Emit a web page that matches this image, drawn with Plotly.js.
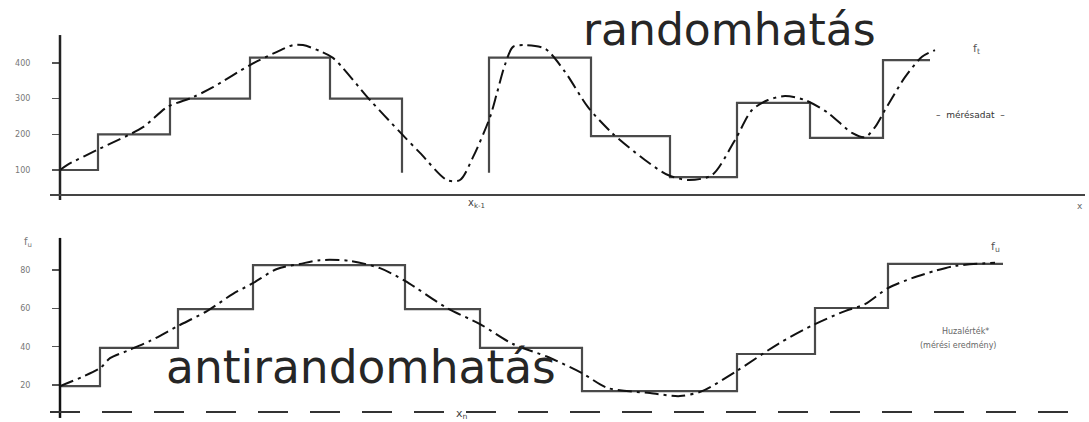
<!DOCTYPE html>
<html>
<head>
<meta charset="utf-8">
<script src="https://cdn.plot.ly/plotly-3.0.1.min.js"></script>
<style>html,body{margin:0;padding:0;background:#fff;}#chart{width:1089px;height:422px;}</style>
</head>
<body>
<div id="chart"></div>
<script>
// ---- data (x in arbitrary position units, y in level units) ----
// top panel: "randomhatás"
const topStepAx = [0, 3.8, 11, 19, 27, 34.2];
const topStepAy = [1, 2, 3, 4.15, 3, 0.92];
const topStepBx = [42.9, 42.9, 53.1, 61, 67.7, 75, 82.3, 87];
const topStepBy = [0.92, 4.15, 1.95, 0.8, 2.88, 1.9, 4.08, 4.08];
const topCurveX = [0, 0.7, 3.7, 8.3, 10.7, 13.3, 15.3, 19, 21.7, 23.3, 24.3, 26, 27.3, 31, 34, 36, 38.7, 40, 41.3, 43, 43.7, 44.5, 45.3, 46.5, 48.5, 50.5, 52.8, 55.2, 58.5, 60.8, 62.8, 65.2, 67.5, 69.2, 70.8, 72.5, 74.5, 76.8, 79.2, 80.5, 81.5, 82.5, 84.5, 86.2, 87.5];
const topCurveY = [1, 1.14, 1.56, 2.2, 2.76, 3.04, 3.32, 3.94, 4.31, 4.5, 4.5, 4.33, 4.14, 2.96, 2.06, 1.48, 0.72, 0.72, 1.36, 2.48, 3.16, 3.95, 4.45, 4.5, 4.4, 3.75, 2.76, 2.04, 1.28, 0.86, 0.72, 0.86, 1.84, 2.68, 2.96, 3.07, 2.96, 2.6, 2.04, 1.92, 2.2, 2.68, 3.6, 4.17, 4.36];
const topTickVals = [1, 2, 3, 4];
const topTickText = ['100', '200', '300', '400'];

// bottom panel: "antirandomhatás"
const botStepX = [0, 4, 11.8, 19.3, 34.5, 42, 52.2, 67.7, 75.5, 82.8, 94.3];
const botStepY = [0.97, 1.97, 2.98, 4.13, 2.98, 1.97, 0.84, 1.81, 3.01, 4.16, 4.16];
const botCurveX = [0, 4, 5, 6.7, 9, 11.8, 14.7, 17.3, 19.3, 21.7, 24, 26, 29, 32, 34.5, 38.7, 42, 45.3, 48.8, 52.2, 54.8, 59, 62, 64.2, 67.7, 71.8, 75.5, 78.5, 80.5, 82.8, 85.2, 87.5, 89.5, 93.5];
const botCurveY = [0.97, 1.44, 1.7, 1.89, 2.15, 2.54, 2.93, 3.38, 3.66, 4.03, 4.16, 4.26, 4.24, 4.05, 3.72, 3.01, 2.59, 2.07, 1.73, 1.31, 0.92, 0.79, 0.71, 0.84, 1.37, 2.07, 2.59, 2.93, 3.11, 3.53, 3.79, 3.98, 4.11, 4.19];
const botTickVals = [1, 2, 3, 4];
const botTickText = ['20', '40', '60', '80'];

// axis extents
const xAxisFrom = -1, xAxisTo = 102.5;
const topAxisY = 0.30, topVFrom = 0.16, topVTo = 4.78;
const botAxisY = 0.295, botVFrom = 0.14, botVTo = 4.84;

// ---- styles ----
const stepLine = {color: '#4a4a4a', width: 2.2, shape: 'hv'};
const curveLine = {color: '#111', width: 2, dash: '14px,5px,3px,5px', shape: 'spline', smoothing: 0.8};

const traces = [
  {x: topStepAx, y: topStepAy, yaxis: 'y2', mode: 'lines', line: stepLine, hoverinfo: 'skip'},
  {x: topStepBx, y: topStepBy, yaxis: 'y2', mode: 'lines', line: stepLine, hoverinfo: 'skip'},
  {x: topCurveX, y: topCurveY, yaxis: 'y2', mode: 'lines', line: curveLine, hoverinfo: 'skip'},
  {x: botStepX, y: botStepY, yaxis: 'y', mode: 'lines', line: stepLine, hoverinfo: 'skip'},
  {x: botCurveX, y: botCurveY, yaxis: 'y', mode: 'lines', line: curveLine, hoverinfo: 'skip'}
];

const tickFont = {family: 'DejaVu Sans', size: 8, color: '#777'};
const axPos = 60 / 1089;
const yCommon = {
  anchor: 'free', position: axPos, showgrid: false, zeroline: false, showline: false,
  ticks: 'outside', ticklen: 8, tickwidth: 1.5, tickcolor: '#555',
  tickfont: tickFont, ticklabelstandoff: 20, fixedrange: true
};

const P = (px, py) => ({x: px / 1089, y: 1 - py / 422, xref: 'paper', yref: 'paper',
  xanchor: 'center', yanchor: 'middle', showarrow: false});
const F = (size, color) => ({family: 'DejaVu Sans', size: size, color: color});

const annotations = [
  Object.assign(P(729, 30), {text: 'randomhatás', font: F(44, '#262626')}),
  Object.assign(P(361, 367), {text: 'antirandomhatás', font: F(45.5, '#262626')}),
  Object.assign(P(476, 203), {text: 'x<sub>k-1</sub>', font: F(10, '#444')}),
  Object.assign(P(1080, 206), {text: 'x', font: F(9, '#666')}),
  Object.assign(P(976, 49), {text: 'f<sub>t</sub>', font: F(11, '#555')}),
  Object.assign(P(970, 115), {text: '–  mérésadat  –', font: F(9, '#333')}),
  Object.assign(P(995, 247), {text: 'f<sub>u</sub>', font: F(11, '#555')}),
  Object.assign(P(965, 331), {text: 'Huzalérték*', font: F(8, '#666')}),
  Object.assign(P(958, 345), {text: '(mérési eredmény)', font: F(8, '#666')}),
  Object.assign(P(28, 242), {text: 'f<sub>u</sub>', font: F(10, '#777')}),
  Object.assign(P(462, 414), {text: 'x<sub>n</sub>', font: F(11, '#444')})
];

const shapes = [
  {type: 'line', xref: 'x', yref: 'y2', x0: 0, x1: 0, y0: topVFrom, y1: topVTo, line: {color: '#222', width: 2.5}},
  {type: 'line', xref: 'x', yref: 'y2', x0: xAxisFrom, x1: xAxisTo, y0: topAxisY, y1: topAxisY, line: {color: '#444', width: 2}},
  {type: 'line', xref: 'x', yref: 'y', x0: 0, x1: 0, y0: botVFrom, y1: botVTo, line: {color: '#111', width: 2.5}},
  {type: 'line', xref: 'x', yref: 'y', x0: xAxisFrom, x1: xAxisTo, y0: botAxisY, y1: botAxisY, line: {color: '#333', width: 2, dash: '30px,22px'}}
];

const layout = {
  width: 1089, height: 422,
  margin: {l: 0, r: 0, t: 0, b: 0},
  paper_bgcolor: '#fff', plot_bgcolor: '#fff',
  showlegend: false,
  xaxis: {range: [-6, 102.9], domain: [0, 1], visible: false, fixedrange: true},
  yaxis: Object.assign({}, yCommon, {domain: [0, 0.5], range: [0.034, 5.543], tickvals: botTickVals, ticktext: botTickText}),
  yaxis2: Object.assign({}, yCommon, {domain: [0.5, 1], range: [-0.148, 5.762], tickvals: topTickVals, ticktext: topTickText}),
  annotations: annotations,
  shapes: shapes
};

Plotly.newPlot('chart', traces, layout, {staticPlot: true, displayModeBar: false});
</script>
</body>
</html>
